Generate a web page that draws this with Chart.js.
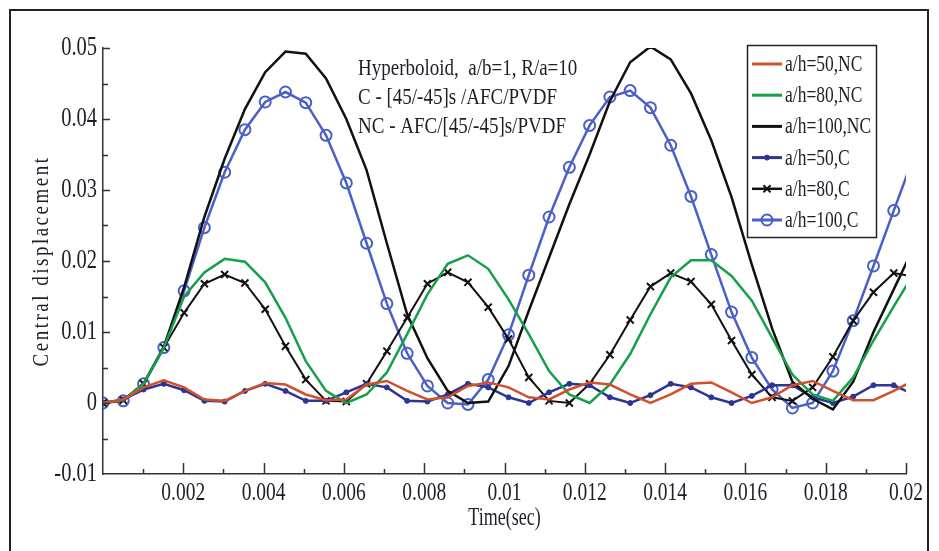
<!DOCTYPE html>
<html>
<head>
<meta charset="utf-8">
<script src="https://cdn.jsdelivr.net/npm/chart.js@4.4.1/dist/chart.umd.min.js"></script>
<style>
  html, body { margin: 0; padding: 0; background: #fff; }
</style>
</head>
<body>
<canvas id="displacement_chart" width="939" height="551"></canvas>
<script>
// time samples (sec)
const times = [0, 0.000505, 0.00101, 0.001515, 0.00202, 0.002525, 0.00303, 0.003535, 0.00404, 0.004545,
  0.00505, 0.005555, 0.00606, 0.006565, 0.00707, 0.007575, 0.00808, 0.008585, 0.00909, 0.009595,
  0.0101, 0.010605, 0.01111, 0.011615, 0.01212, 0.012625, 0.01313, 0.013635, 0.01414, 0.014645,
  0.01515, 0.015655, 0.01616, 0.016665, 0.01717, 0.017675, 0.01818, 0.018685, 0.01919, 0.019695, 0.0202];

const nc50 = [0, 0.0005, 0.0022, 0.0032, 0.0022, 0.0005, 0.0003, 0.0017, 0.0028, 0.0026,
  0.0012, 0.0004, 0.0005, 0.0026, 0.0031, 0.0017, 0.0005, 0.0008, 0.0024, 0.0029,
  0.0022, 0.0008, 0.0005, 0.0019, 0.0029, 0.0026, 0.0012, 0.0000, 0.0012, 0.0027,
  0.0029, 0.0015, 0.0000, 0.0008, 0.0025, 0.0031, 0.0017, 0.0004, 0.0004, 0.0017, 0.0032];
const nc80 = [0, 0.0004, 0.0027, 0.0078, 0.0150, 0.0184, 0.0203, 0.0199, 0.0170, 0.0120,
  0.0059, 0.0017, 0.0000, 0.0012, 0.0043, 0.0097, 0.0153, 0.0196, 0.0208, 0.0189,
  0.0146, 0.0097, 0.0045, 0.0012, 0.0000, 0.0026, 0.0069, 0.0125, 0.0177, 0.0201,
  0.0201, 0.0179, 0.0144, 0.0092, 0.0040, 0.0012, 0.0003, 0.0036, 0.0088, 0.0136, 0.0183];
const nc100 = [0, 0.0004, 0.0027, 0.0079, 0.0163, 0.0262, 0.0344, 0.0414, 0.0466, 0.0495,
  0.0492, 0.0457, 0.0400, 0.0328, 0.0225, 0.0125, 0.0063, 0.0017, 0.0000, 0.0002,
  0.0052, 0.0130, 0.0205, 0.0280, 0.0350, 0.0425, 0.0480, 0.0502, 0.0484, 0.0436,
  0.0370, 0.0290, 0.0195, 0.0105, 0.0030, 0.0006, -0.0009, 0.0030, 0.0100, 0.0160, 0.0220];
const c50 = [0, 0.0005, 0.0019, 0.0027, 0.0018, 0.0003, 0.0002, 0.0017, 0.0027, 0.0017,
  0.0003, 0.0003, 0.0015, 0.0027, 0.0022, 0.0003, 0.0002, 0.0012, 0.0027, 0.0022,
  0.0008, 0.0000, 0.0015, 0.0027, 0.0025, 0.0008, 0.0000, 0.0011, 0.0027, 0.0022,
  0.0008, 0.0000, 0.0010, 0.0025, 0.0025, 0.0008, 0.0000, 0.0009, 0.0025, 0.0025, 0.0012];
const c80 = [0, 0.0004, 0.0027, 0.0078, 0.0127, 0.0168, 0.0181, 0.0169, 0.0132, 0.0080,
  0.0033, 0.0003, 0.0002, 0.0027, 0.0073, 0.0120, 0.0168, 0.0184, 0.0170, 0.0135,
  0.0090, 0.0036, 0.0003, 0.0000, 0.0027, 0.0068, 0.0117, 0.0164, 0.0183, 0.0171,
  0.0139, 0.0088, 0.0040, 0.0008, 0.0003, 0.0022, 0.0065, 0.0116, 0.0156, 0.0183, 0.0178];
const c100 = [0, 0.0003, 0.0027, 0.0078, 0.0158, 0.0247, 0.0325, 0.0385, 0.0424, 0.0438,
  0.0423, 0.0377, 0.0310, 0.0225, 0.0140, 0.0070, 0.0024, 0.0000, -0.0002, 0.0033,
  0.0096, 0.0180, 0.0262, 0.0332, 0.0391, 0.0431, 0.0440, 0.0416, 0.0363, 0.0291,
  0.0209, 0.0128, 0.0064, 0.0019, -0.0007, 0.0000, 0.0045, 0.0116, 0.0193, 0.0271, 0.0348];

const noteLines = ['Hyperboloid,  a/b=1, R/a=10', 'C - [45/-45]s /AFC/PVDF', 'NC - AFC/[45/-45]s/PVDF'];

function pts(arr) {
  return times.map((t, i) => ({x: t, y: arr[i]}));
}

const serif = "'Liberation Serif', 'DejaVu Serif', serif";
const fmtX = v => v === 0 ? '' : String(+v.toFixed(4));
const fmtY = v => String(+v.toFixed(3));

// the source figure's lettering is stretched vertically
function tallText(ctx, text, x, y, size, sy, align) {
  ctx.save();
  ctx.font = size + 'px ' + serif;
  ctx.textAlign = align;
  ctx.textBaseline = 'middle';
  ctx.translate(x, y);
  ctx.scale(1, sy);
  ctx.fillText(text, 0, 0);
  ctx.restore();
}

// frame, ticks, labels, titles, notes and legend drawn on the canvas
const decorations = {
  id: 'decorations',
  beforeDraw(chart) {
    const ctx = chart.ctx;
    ctx.save();
    ctx.fillStyle = '#fff';
    ctx.fillRect(0, 0, chart.width, chart.height);
    ctx.strokeStyle = '#222';
    ctx.lineWidth = 2;
    ctx.strokeRect(10, 10, 918, 560);
    ctx.restore();
  },
  afterDraw(chart) {
    const ctx = chart.ctx;
    const x = chart.scales.x, y = chart.scales.y;
    ctx.save();
    // inward tick marks
    ctx.strokeStyle = '#333';
    ctx.lineWidth = 1.5;
    ctx.beginPath();
    for (let k = 1; k <= 20; k++) {
      const px = Math.round(x.getPixelForValue(k * 0.001)) + 0.5;
      const len = k % 2 === 0 ? 11 : 5;
      ctx.moveTo(px, x.top);
      ctx.lineTo(px, x.top - len);
    }
    for (let k = 1; k <= 12; k++) {
      const py = Math.round(y.getPixelForValue(-0.01 + k * 0.005)) + 0.5;
      const len = k % 2 === 0 ? 7 : 5;
      ctx.moveTo(y.right, py);
      ctx.lineTo(y.right + len, py);
    }
    ctx.stroke();

    // tick labels
    ctx.fillStyle = '#1e1e28';
    x.ticks.forEach(t => tallText(ctx, fmtX(t.value), x.getPixelForValue(t.value), 493, 19.5, 1.3, 'center'));
    y.ticks.forEach(t => tallText(ctx, fmtY(t.value), y.right - 6, y.getPixelForValue(t.value), 20.5, 1.3, 'right'));

    // axis titles
    tallText(ctx, 'Time(sec)', (x.left + x.right) / 2, 518, 18, 1.4, 'center');
    ctx.save();
    ctx.translate(42, (y.top + y.bottom) / 2);
    ctx.rotate(-Math.PI / 2);
    ctx.letterSpacing = '2.5px';
    tallText(ctx, 'Central displacement', 0, 0, 19, 1.25, 'center');
    ctx.restore();

    // notes
    noteLines.forEach((t, i) => tallText(ctx, t, 358, 69 + i * 29, 19, 1.2, 'left'));

    // legend
    ctx.strokeStyle = '#222';
    ctx.lineWidth = 1.5;
    ctx.strokeRect(747.5, 45.5, 129, 192);
    chart.data.datasets.forEach((ds, i) => {
      const yy = 64 + i * 31.2;
      ctx.strokeStyle = ds.borderColor;
      ctx.lineWidth = ds.borderWidth + 0.5;
      ctx.beginPath();
      ctx.moveTo(752, yy);
      ctx.lineTo(782, yy);
      ctx.stroke();
      if (ds.pointRadius > 0) {
        ctx.fillStyle = ds.pointBackgroundColor;
        ctx.strokeStyle = ds.borderColor;
        ctx.lineWidth = ds.pointBorderWidth;
        Chart.helpers.drawPoint(ctx, {
          pointStyle: ds.pointStyle, radius: ds.pointRadius,
          borderWidth: ds.pointBorderWidth, rotation: 0
        }, 767, yy);
      }
      ctx.fillStyle = '#1e1e28';
      tallText(ctx, ds.label, 785, yy + 1, 17.5, 1.3, 'left');
    });
    ctx.restore();
  }
};

Chart.defaults.font.family = serif;
Chart.defaults.color = '#222';

const ctx = document.getElementById('displacement_chart');
const displacementChart = new Chart(ctx, {
  type: 'line',
  data: {
    datasets: [
      {label: 'a/h=50,NC', data: pts(nc50), borderColor: '#d2502c', borderWidth: 2.5, pointRadius: 0},
      {label: 'a/h=80,NC', data: pts(nc80), borderColor: '#17a04a', borderWidth: 2.5, pointRadius: 0},
      {label: 'a/h=100,NC', data: pts(nc100), borderColor: '#111111', borderWidth: 2.5, pointRadius: 0},
      {label: 'a/h=50,C', data: pts(c50), borderColor: '#2d3592', borderWidth: 2.5,
        pointStyle: 'circle', pointRadius: 2.5, pointBackgroundColor: '#2d3592', pointBorderWidth: 1},
      {label: 'a/h=80,C', data: pts(c80), borderColor: '#111111', borderWidth: 2,
        pointStyle: 'crossRot', pointRadius: 5, pointBackgroundColor: '#111111', pointBorderWidth: 2},
      {label: 'a/h=100,C', data: pts(c100), borderColor: '#4a60c6', borderWidth: 2.5,
        pointStyle: 'circle', pointRadius: 5.5, pointBackgroundColor: 'rgba(0,0,0,0)', pointBorderWidth: 2}
    ]
  },
  options: {
    responsive: false,
    animation: false,
    events: [],
    layout: {padding: {left: 0, top: 48, right: 33, bottom: 0}},
    elements: {line: {tension: 0}},
    plugins: {legend: {display: false}, tooltip: {enabled: false}},
    scales: {
      x: {
        type: 'linear', min: 0, max: 0.02,
        grid: {display: false, drawTicks: false},
        border: {display: true, color: '#333', width: 1.5},
        ticks: {stepSize: 0.002, autoSkip: false, maxRotation: 0, display: false},
        afterFit: s => { s.height = 77; }
      },
      y: {
        min: -0.01, max: 0.05,
        grid: {display: false, drawTicks: false},
        border: {display: true, color: '#333', width: 1.5},
        ticks: {stepSize: 0.01, display: false},
        afterFit: s => { s.width = 103; }
      }
    }
  },
  plugins: [decorations]
});
</script>
</body>
</html>
